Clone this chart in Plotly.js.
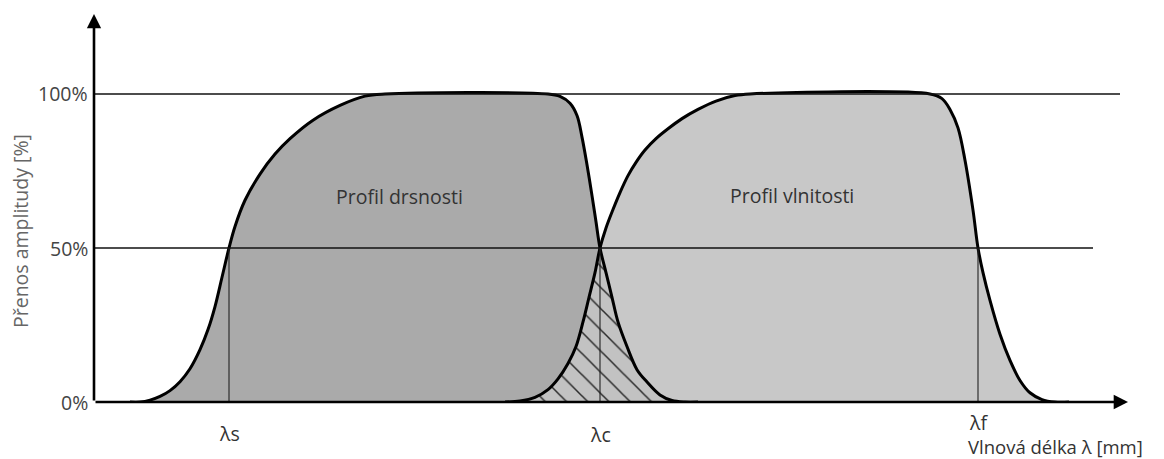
<!DOCTYPE html>
<html>
<head>
<meta charset="utf-8">
<script src="https://cdn.plot.ly/plotly-3.0.1.min.js"></script>
<style>
  html, body { margin: 0; padding: 0; background: #fff; }
  #chart { width: 1164px; height: 459px; }
</style>
</head>
<body>
<div id="chart"></div>
<script>
// Transmission curves (x = position along the wavelength axis, y = amplitude transmission in %)
const roughX = [36, 46, 56, 66, 76, 86, 96, 106, 114, 121, 128, 135, 141, 151, 166, 181, 196, 219, 246, 271, 291,
                454, 466, 476, 483, 488, 493, 498, 502, 506, 512, 518, 524, 533, 543, 553, 566, 578, 591, 604];
const roughY = [0, 0, 0.6, 1.8, 3.7, 6.6, 10.8, 17, 23.5, 31, 40.5, 50, 57, 65.5, 74, 80.5, 85.5, 91.5, 96.3, 99.3, 100,
                100, 99.2, 97, 93, 86, 77, 67, 58.5, 50, 42, 34, 26, 18, 10.5, 6.5, 2.3, 0.5, 0, 0];

const waveX = [411, 426, 441, 454, 464, 474, 482, 489, 495, 501, 506, 512, 519, 526, 534, 542, 551, 562,
               574, 588, 604, 622, 641, 656, 836, 848, 856, 864, 871, 879, 884, 889, 896, 906, 916, 926, 936, 948, 961, 975];
const waveY = [0, 0.3, 1.5, 4, 7.5, 12.5, 18, 26, 34, 42, 50, 56.5, 62.5, 68, 73.5, 77.8, 81.8, 85.5,
               88.7, 92, 95, 97.7, 99.5, 100, 100, 98.5, 95, 89, 78.5, 62.3, 50, 42, 33, 22, 13.5, 7, 3, 0.8, 0, 0];

// Cut-off wavelengths and their labels
const cutoffX = [135, 506, 884];
const cutoffLabels = ['λs', 'λc', 'λf'];

// Reference levels and their labels
const levelValues = [0, 50, 100];
const levelLabels = ['0%', '50%', '100%'];
const levelLineEnds = [null, 999, 1026];

// Band names
const bandNames = ['Profil drsnosti', 'Profil vlnitosti'];
const bandX = [305, 698];
const bandY = [66.6, 67];

const axisTitleX = 'Vlnová délka λ [mm]';
const axisTitleY = 'Přenos amplitudy [%]';

// Region transmitted by both filters: rising edge of the waviness curve up to λc,
// then the falling edge of the roughness curve beyond it
const lc = cutoffX[1];
const overlapX = [], overlapY = [];
waveX.forEach((x, i) => { if (x <= lc && waveY[i] <= 50) { overlapX.push(x); overlapY.push(waveY[i]); } });
roughX.forEach((x, i) => { if (x > lc && roughY[i] <= 50) { overlapX.push(x); overlapY.push(roughY[i]); } });

const FONT = '"Open Sans", "Noto Sans", sans-serif';
const FS = 19.5;
const SMOOTH = 1.0;

const traces = [
  { x: roughX, y: roughY, mode: 'lines', fill: 'tozeroy', fillcolor: '#aaaaaa',
    line: { width: 0, shape: 'spline', smoothing: SMOOTH }, hoverinfo: 'skip', showlegend: false },
  { x: waveX, y: waveY, mode: 'lines', fill: 'tozeroy', fillcolor: '#c8c8c8',
    line: { width: 0, shape: 'spline', smoothing: SMOOTH }, hoverinfo: 'skip', showlegend: false },
  { x: overlapX, y: overlapY, mode: 'lines', fill: 'tozeroy',
    fillpattern: { shape: '\\', bgcolor: '#c2c2c2', fgcolor: '#2a2a2a', size: 15, solidity: 0.1 },
    line: { width: 0, shape: 'spline', smoothing: SMOOTH }, hoverinfo: 'skip', showlegend: false },
  { x: roughX, y: roughY, mode: 'lines',
    line: { color: '#000', width: 3, shape: 'spline', smoothing: SMOOTH }, hoverinfo: 'skip', showlegend: false },
  { x: waveX, y: waveY, mode: 'lines',
    line: { color: '#000', width: 3, shape: 'spline', smoothing: SMOOTH }, hoverinfo: 'skip', showlegend: false }
];

const X_MAX = 1034;
const Y_MAX = 125.97;
const PLOT_H = 388;  // pixel height of the plotting area

// convert a pixel offset below the x axis into paper coordinates
const below = px => -px / PLOT_H;

const shapes = [];
// 50 % and 100 % reference lines
levelValues.forEach((v, i) => {
  if (levelLineEnds[i] === null) return;
  shapes.push({ type: 'line', xref: 'x', yref: 'y', x0: 0, x1: levelLineEnds[i], y0: v, y1: v,
                line: { color: '#111', width: 1.6 } });
});
// vertical cut-off markers from the 50 % level down to the axis
cutoffX.forEach(x => {
  shapes.push({ type: 'line', xref: 'x', yref: 'y', x0: x, x1: x, y0: 0, y1: levelValues[1],
                line: { color: '#222', width: 1.1 } });
});

const annotations = [];
// axes with arrow heads
annotations.push({ x: 0, y: Y_MAX, ax: 0, ay: 0, axref: 'x', ayref: 'y', xref: 'x', yref: 'y',
                   text: '', showarrow: true, arrowhead: 2, arrowsize: 1.1, arrowwidth: 2.6, arrowcolor: '#000', standoff: 0 });
annotations.push({ x: X_MAX, y: 0, ax: 0, ay: 0, axref: 'x', ayref: 'y', xref: 'x', yref: 'y',
                   text: '', showarrow: true, arrowhead: 2, arrowsize: 1.1, arrowwidth: 2.6, arrowcolor: '#000', standoff: 0 });
// level labels
levelValues.forEach((v, i) => {
  annotations.push({ x: 0, y: v, xref: 'x', yref: 'y', xanchor: 'right', yanchor: 'middle', xshift: -4,
                     text: levelLabels[i], showarrow: false, font: { family: FONT, size: FS, color: '#444' } });
});
// cut-off labels
const cutoffLabelDrop = [31, 33, 20];
cutoffX.forEach((x, i) => {
  annotations.push({ x: x, y: below(cutoffLabelDrop[i]), xref: 'x', yref: 'paper', xanchor: 'center', yanchor: 'middle',
                     text: cutoffLabels[i], showarrow: false, borderpad: 0,
                     font: { family: FONT, size: FS, color: '#333' } });
});
// band names
bandNames.forEach((t, i) => {
  annotations.push({ x: bandX[i], y: bandY[i], xref: 'x', yref: 'y', xanchor: 'center', yanchor: 'middle',
                     text: t, showarrow: false, font: { family: FONT, size: FS, color: '#333' } });
});
// axis titles
annotations.push({ x: 961, y: below(44), xref: 'x', yref: 'paper', xanchor: 'center', yanchor: 'middle',
                   text: axisTitleX, showarrow: false, borderpad: 0,
                   font: { family: FONT, size: 18.5, color: '#333' } });
annotations.push({ x: -74 / X_MAX, y: 171 / PLOT_H, xref: 'paper', yref: 'paper', xanchor: 'center', yanchor: 'middle',
                   textangle: -90, text: axisTitleY, showarrow: false, font: { family: FONT, size: FS, color: '#666' } });

const layout = {
  width: 1164, height: 459,
  margin: { l: 94, r: 1164 - 94 - X_MAX, t: 14, b: 57, pad: 0 },
  paper_bgcolor: '#fff', plot_bgcolor: '#fff',
  xaxis: { range: [0, X_MAX], showgrid: false, zeroline: false, showline: false, showticklabels: false, ticks: '', fixedrange: true },
  yaxis: { range: [0, Y_MAX], showgrid: false, zeroline: false, showline: false, showticklabels: false, ticks: '', fixedrange: true },
  shapes: shapes,
  annotations: annotations,
  showlegend: false
};

Plotly.newPlot('chart', traces, layout, { staticPlot: true, displayModeBar: false });
</script>
</body>
</html>
